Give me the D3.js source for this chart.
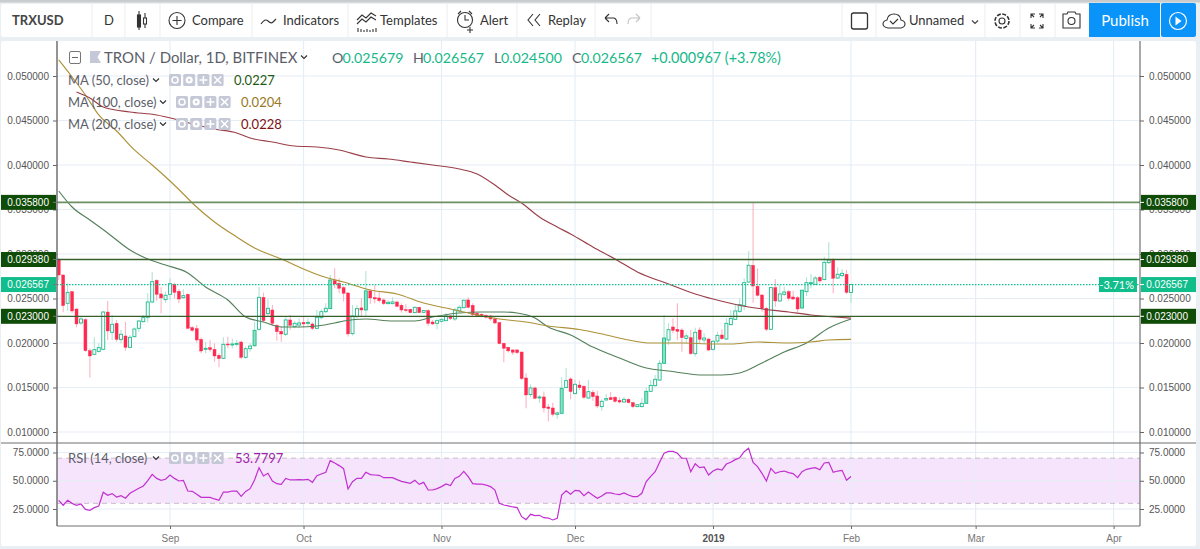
<!DOCTYPE html>
<html>
<head>
<meta charset="utf-8">
<script src="https://cdn.jsdelivr.net/npm/d3@7"></script>
<style>
  html, body { margin: 0; padding: 0; background: #e9eff2; overflow: hidden; }
  svg { display: block; }
  text { font-family: Lato, "Noto Sans", sans-serif; }
  .num text, text.num { font-family: "Liberation Sans", Arial, sans-serif; }
</style>
</head>
<body>
<div id="chart"></div>
<script>
// prices are in 1e-5 USD, one entry per day from startDay
var startDay = new Date(Date.UTC(2018, 7, 7));

var opens = [2940,2764,2446,2577,2382,2225,2262,1914,1873,1906,
  1929,2348,2120,2221,2038,2079,1951,2071,2165,2240,
  2289,2461,2704,2551,2487,2547,2659,2581,2509,2547,
  2172,2161,2041,1929,1948,1929,1862,1828,1989,1978,
  1985,2011,1839,1936,1970,2154,2513,2330,2371,2199,
  2131,2098,2259,2184,2202,2232,2221,2214,2165,2285,
  2352,2386,2701,2671,2622,2562,2105,2296,2394,2371,
  2585,2510,2506,2484,2442,2442,2461,2424,2375,2379,
  2341,2401,2345,2364,2236,2221,2244,2251,2304,2270,
  2360,2397,2484,2424,2334,2323,2311,2304,2270,2229,
  1997,1952,1922,1922,1899,1607,1420,1495,1383,1394,
  1281,1270,1199,1210,1499,1596,1431,1528,1513,1382,
  1446,1405,1285,1360,1386,1390,1356,1337,1367,1330,
  1285,1285,1322,1457,1521,1584,1772,2034,2180,2154,
  2146,2052,2060,1880,2146,2034,2045,1929,2022,2090,
  2045,2206,2266,2356,2423,2685,2873,2637,2539,2390,
  2154,2622,2472,2547,2577,2517,2509,2393,2577,2670,
  2659,2738,2712,2903,2936,2730,2757,2772,2568];
var highs = [2951,2770,2670,2585,2390,2296,2277,1940,2064,1996,
  2360,2472,2315,2259,2146,2240,2090,2176,2259,2315,
  2558,2798,2715,2626,2577,2727,2678,2603,2603,2558,
  2191,2202,2064,2015,2034,1996,1884,2064,2071,2049,
  2034,2026,1959,1996,2240,2633,2566,2491,2427,2214,
  2191,2303,2315,2251,2277,2296,2277,2229,2371,2378,
  2446,2764,2839,2727,2641,2570,2427,2427,2502,2809,
  2603,2652,2588,2502,2484,2514,2476,2446,2435,2386,
  2409,2409,2371,2379,2259,2266,2274,2341,2315,2397,
  2427,2491,2514,2446,2353,2334,2323,2315,2289,2240,
  2004,1959,1929,1933,1903,1660,1536,1510,1416,1454,
  1315,1330,1229,1615,1720,1615,1585,1577,1528,1584,
  1472,1464,1367,1427,1449,1404,1390,1397,1378,1341,
  1315,1378,1502,1584,1640,1809,2315,2221,2277,2446,
  2165,2109,2146,2172,2176,2109,2052,2034,2127,2154,
  2277,2371,2438,2502,2727,3034,3580,2839,2551,2408,
  2633,2715,2652,2633,2596,2588,2528,2603,2738,2775,
  2753,2753,2970,3131,2951,2850,2828,2820,2657];
var lows = [2708,2345,2360,2333,2176,2202,1903,1611,1862,1892,
  1921,2034,2034,2015,1996,1914,1940,2064,2127,2229,
  2229,2446,2476,2333,2453,2483,2502,2446,2498,2154,
  2127,2004,1884,1884,1903,1790,1727,1817,1940,1940,
  1959,1817,1824,1903,1959,2139,2229,2296,2191,2026,
  2015,2079,2146,2165,2165,2172,2184,2146,2154,2266,
  2333,2378,2615,2558,2465,2072,2083,2278,2296,2296,
  2439,2446,2454,2427,2435,2435,2401,2341,2345,2334,
  2334,2334,2334,2191,2203,2154,2229,2244,2259,2248,
  2341,2390,2390,2304,2296,2289,2274,2251,2214,1985,
  1783,1892,1866,1873,1585,1266,1390,1368,1330,1218,
  1117,1173,1150,1203,1491,1368,1424,1472,1367,1367,
  1352,1266,1240,1352,1360,1330,1322,1330,1322,1266,
  1277,1277,1315,1450,1509,1577,1764,1978,2109,2034,
  1903,1996,1865,1847,1996,1989,1914,1914,1996,2034,
  2034,2198,2258,2341,2371,2678,2453,2521,2352,2135,
  2146,2408,2464,2528,2476,2483,2345,2386,2528,2614,
  2652,2678,2708,2888,2558,2723,2738,2551,2450];
var closes = [2764,2420,2569,2360,2214,2270,1914,1854,1925,1948,
  2348,2135,2210,2041,2098,1951,2064,2157,2247,2285,
  2461,2689,2547,2506,2536,2667,2569,2494,2532,2165,
  2142,2034,1910,1940,1925,1854,1824,1985,1981,1989,
  1996,1839,1936,1966,2142,2513,2251,2390,2221,2127,
  2101,2259,2199,2221,2225,2214,2232,2165,2289,2352,
  2390,2708,2663,2615,2558,2102,2304,2386,2371,2585,
  2506,2495,2476,2442,2457,2461,2412,2371,2364,2341,
  2401,2341,2364,2221,2214,2251,2266,2304,2274,2371,
  2401,2480,2401,2319,2308,2304,2289,2270,2225,1993,
  1941,1911,1896,1892,1600,1416,1495,1379,1394,1270,
  1263,1199,1214,1491,1577,1454,1536,1498,1390,1453,
  1397,1292,1345,1375,1363,1345,1337,1367,1330,1285,
  1307,1322,1457,1524,1592,1772,2056,2150,2142,2131,
  2060,2079,1880,2120,2041,2056,1921,2019,2086,2049,
  2221,2277,2360,2431,2678,2873,2640,2536,2386,2154,
  2622,2472,2551,2573,2502,2494,2382,2592,2678,2678,
  2730,2697,2906,2932,2727,2772,2783,2569,2656.7];
// up days drawn with a filled body
var filledDays = [44,61,69,113,132,136,167];

var ma50Days = [0,3,7,11,16,20,24,29,33,38,42,46,50,54,58,62,64,69,75,80,84,90,95,100,103,107,110,115,120,126,132,137,145,149,153,158,163,168,173,178];
var ma50 = [3708,3528,3382,3236,3045,2944,2876,2787,2629,2483,2292,2236,2180,2180,2191,2225,2247,2270,2247,2247,2292,2337,2348,2348,2337,2281,2180,2090,1955,1831,1719,1685,1640,1640,1663,1775,1899,2000,2169,2270];
var ma100Days = [0,3,6,9,13,17,21,25,28,30,35,40,44,50,55,59,64,70,76,82,87,93,99,105,110,117,123,128,133,140,147,151,157,164,169,173,178];
var ma100 = [5180,4989,4787,4562,4382,4169,4000,3820,3674,3573,3360,3191,3067,2944,2831,2753,2685,2596,2551,2449,2393,2326,2270,2236,2191,2152,2090,2034,2000,2000,1989,1989,2011,2000,2011,2034,2040];
var ma200Days = [4,7,10,16,22,26,31,35,40,43,48,53,58,63,69,74,79,84,90,94,98,101,104,108,112,115,120,125,130,137,143,147,155,164,169,178];
var ma200 = [4820,4753,4652,4596,4562,4517,4449,4404,4360,4303,4258,4213,4202,4169,4090,4067,4034,4000,3955,3899,3775,3663,3573,3416,3303,3225,3079,2944,2798,2663,2551,2494,2404,2348,2315,2280];

var rsi = [32.7,28.3,32.7,30,28.3,29.4,24.7,23.8,26.2,27.7,
  39.8,37.1,38.6,35.6,36.8,34.5,38.9,41.2,43.3,45.4,
  50.1,55.7,52.1,50.4,51.3,55.1,52.1,49.8,50.4,40.9,
  40.6,38,35.3,35.3,35.3,33.9,32.7,40,40,40.9,
  40.9,36.2,40.6,43,50.7,61.6,54.2,56.6,49.8,47.4,
  46.8,52.1,50.7,50.7,51,50.8,51.3,48.6,54.5,56,
  57.5,67.8,65.7,63.4,60.7,42.7,49.2,52.1,52.1,57.5,
  55.4,55.1,54.8,52.7,52.7,52.7,51,49.5,48.6,47.7,
  50.4,46.8,48.6,41.8,41.8,43,44.8,47.1,45.7,52.1,
  53.9,58.3,53.6,47.4,47.1,47.1,46.2,44.8,41.8,30,
  28.5,27.7,26.8,26.2,18.2,15.6,20.3,19.1,19.4,17.3,
  17,15.3,16.8,37.4,41.2,38,41.5,41,36.8,40,
  37.1,34.5,36.5,39.2,39.2,38.3,37.7,39.2,37.4,35.9,
  35.9,38.9,49.2,53.9,58,66.3,74.3,76,76,74.3,
  69.9,69.9,58,65.1,61.6,62.2,55.1,58.6,60.4,59.5,
  64.8,66.3,68.7,70.4,75.7,78.7,66.3,62.5,56.6,49.8,
  61,56.6,58,58.6,57.2,56.3,52.7,58,60.1,61,
  61.6,59.8,65.7,66.3,57.5,58.6,59.2,50.4,53.78];

var priceTicks = [1000,1500,2000,2500,3000,3500,4000,4500,5000];
var rsiTicks = [25,50,75];
var monthTicks = [new Date(Date.UTC(2018,8,1)),new Date(Date.UTC(2018,9,1)),new Date(Date.UTC(2018,10,1)),new Date(Date.UTC(2018,11,1)),
  new Date(Date.UTC(2019,0,1)),new Date(Date.UTC(2019,1,1)),new Date(Date.UTC(2019,2,1)),new Date(Date.UTC(2019,3,1))];
var monthLabels = ["Sep","Oct","Nov","Dec","2019","Feb","Mar","Apr"];
var levels = [3580,2938,2300];
var lastClose = 2656.7;

var W = 1200, H = 549;
var paneLeft = 57, paneRight = 1140, paneTop = 41, split = 443, paneBottom = 526;

var fmtPrice = function(d) { return (d / 1e5).toFixed(6); };
var dayDate = function(i) { return d3.utcDay.offset(startDay, i); };

var x = d3.scaleUtc().domain([monthTicks[0], monthTicks[5]]).range([170, 851]);
var y = d3.scaleLinear().domain([5000, 1000]).range([76, 432]);
var yr = d3.scaleLinear().domain([75, 25]).range([452.5, 509]);
var px = function(i) { return x(dayDate(i)); };

var svg = d3.select("#chart").append("svg").attr("width", W).attr("height", H);

svg.append("rect").attr("width", W).attr("height", H).attr("fill", "#e9eff2");
svg.append("rect").attr("width", W).attr("height", 2.5).attr("fill", "#c9cccd");
svg.append("rect").attr("x", 1).attr("y", 4).attr("width", 1195).attr("height", 33).attr("rx", 2).attr("fill", "#fff");
svg.append("rect").attr("x", 1).attr("y", paneTop).attr("width", 1195).attr("height", 505).attr("rx", 2).attr("fill", "#fff");

var defs = svg.append("defs");
defs.append("clipPath").attr("id", "pricePane").append("rect")
  .attr("x", paneLeft).attr("y", paneTop).attr("width", paneRight - paneLeft).attr("height", split - paneTop);
defs.append("clipPath").attr("id", "rsiPane").append("rect")
  .attr("x", paneLeft).attr("y", split).attr("width", paneRight - paneLeft).attr("height", paneBottom - split);

// grid
var grid = svg.append("g").attr("stroke", "#e5eef5").attr("stroke-width", 1.2);
grid.selectAll(".v").data(monthTicks).enter().append("line").attr("class", "v")
  .attr("x1", x).attr("x2", x).attr("y1", paneTop).attr("y2", paneBottom);
grid.selectAll(".h").data(priceTicks).enter().append("line").attr("class", "h")
  .attr("x1", paneLeft).attr("x2", paneRight).attr("y1", y).attr("y2", y);

// rsi band goes under its grid lines
svg.append("rect").attr("x", paneLeft).attr("width", paneRight - paneLeft)
  .attr("y", yr(70)).attr("height", yr(30) - yr(70)).attr("fill", "#f6e3fc");
grid.raise();
grid.selectAll(".r").data(rsiTicks).enter().append("line").attr("class", "r")
  .attr("x1", paneLeft).attr("x2", paneRight).attr("y1", yr).attr("y2", yr);
svg.selectAll(".band").data([70, 30]).enter().append("line").attr("class", "band")
  .attr("x1", paneLeft).attr("x2", paneRight).attr("y1", yr).attr("y2", yr)
  .attr("stroke", "#c8bccb").attr("stroke-width", 1).attr("stroke-dasharray", "5,4");

// candles
var days = d3.range(opens.length);
var pane = svg.append("g").attr("clip-path", "url(#pricePane)");

pane.selectAll(".wick").data(days).enter().append("line").attr("class", "wick")
  .attr("x1", px).attr("x2", px)
  .attr("y1", function(i) { return y(highs[i]); })
  .attr("y2", function(i) { return y(lows[i]); })
  .attr("stroke", function(i) { return closes[i] >= opens[i] ? "#aee6d2" : "#fbb4c3"; })
  .attr("stroke-width", 1.1);

pane.selectAll(".body").data(days).enter().append("rect").attr("class", "body")
  .attr("x", function(i) { return px(i) - 1.5; })
  .attr("width", 3)
  .attr("y", function(i) { return y(Math.max(opens[i], closes[i])); })
  .attr("height", function(i) { return Math.max(1, Math.abs(y(opens[i]) - y(closes[i]))); })
  .attr("fill", function(i) {
    if (closes[i] < opens[i]) return "#ff2a50";
    return filledDays.indexOf(i) >= 0 ? "#8fdfc2" : "#fff";
  })
  .attr("stroke", function(i) { return closes[i] >= opens[i] ? "#1fbb8d" : "#ff2a50"; })
  .attr("stroke-width", function(i) { return closes[i] >= opens[i] ? 0.9 : 0.4; });

// moving averages
function maLine(dayList, values, color) {
  var line = d3.line().curve(d3.curveMonotoneX)
    .x(function(i) { return px(i); })
    .y(function(i, k) { return y(values[k]); });
  pane.append("path").attr("d", line(dayList)).attr("fill", "none")
    .attr("stroke", color).attr("stroke-width", 1.15);
}
maLine(ma50Days, ma50, "#54805a");
maLine(ma100Days, ma100, "#ad9138");
maLine(ma200Days, ma200, "#9a3f48");

// horizontal levels
pane.selectAll(".level").data(levels).enter().append("line").attr("class", "level")
  .attr("x1", paneLeft).attr("x2", paneRight).attr("y1", y).attr("y2", y)
  .attr("stroke", function(d, i) { return i == 0 ? "#6d8f63" : "#365f2c"; })
  .attr("stroke-width", function(d, i) { return i == 0 ? 1.6 : 1.3; });
pane.append("line").attr("x1", paneLeft).attr("x2", paneRight).attr("y1", y(lastClose)).attr("y2", y(lastClose))
  .attr("stroke", "#0fc391").attr("stroke-width", 1.2).attr("stroke-dasharray", "1.5,1.5");

// rsi line
var rsiLine = d3.line().x(function(d, i) { return px(i); }).y(function(d) { return yr(d); });
svg.append("g").attr("clip-path", "url(#rsiPane)").append("path").attr("d", rsiLine(rsi))
  .attr("fill", "none").attr("stroke", "#c12fd0").attr("stroke-width", 1.2);

// axes
function styleAxis(g, color) {
  g.select(".domain").remove();
  g.attr("class", "num");
  g.selectAll("line").attr("stroke", "#666");
  g.selectAll("text").attr("fill", color).style("font-size", "10px");
}
svg.append("g").attr("transform", "translate(" + paneLeft + ",0)")
  .call(d3.axisLeft(y).tickValues(priceTicks).tickFormat(fmtPrice).tickSize(4).tickPadding(4)).call(styleAxis, "#555");
svg.append("g").attr("transform", "translate(" + paneRight + ",0)")
  .call(d3.axisRight(y).tickValues(priceTicks).tickFormat(fmtPrice).tickSize(4).tickPadding(5)).call(styleAxis, "#555");
svg.append("g").attr("transform", "translate(" + paneLeft + ",0)")
  .call(d3.axisLeft(yr).tickValues(rsiTicks).tickFormat(d3.format(".4f")).tickSize(4).tickPadding(4)).call(styleAxis, "#555");
svg.append("g").attr("transform", "translate(" + paneRight + ",0)")
  .call(d3.axisRight(yr).tickValues(rsiTicks).tickFormat(d3.format(".4f")).tickSize(4).tickPadding(5)).call(styleAxis, "#555");
var timeAxis = svg.append("g").attr("transform", "translate(0," + paneBottom + ")")
  .call(d3.axisBottom(x).tickValues(monthTicks).tickFormat(function(d, i) { return monthLabels[i]; }).tickSize(3).tickPadding(6))
  .call(styleAxis, "#777");
timeAxis.selectAll("text").style("font-weight", function(d, i) { return monthLabels[i] == "2019" ? "bold" : "normal"; })
  .attr("fill", function(d, i) { return monthLabels[i] == "2019" ? "#555" : "#777"; });

// pane borders
var border = svg.append("g").attr("stroke", "#717171").attr("fill", "none");
border.append("line").attr("x1", paneLeft).attr("x2", paneLeft).attr("y1", paneTop).attr("y2", paneBottom).attr("stroke-width", 1.5);
border.append("line").attr("x1", paneRight).attr("x2", paneRight).attr("y1", paneTop).attr("y2", paneBottom).attr("stroke", "#555");
border.append("line").attr("x1", 1).attr("x2", 1196).attr("y1", split).attr("y2", split).attr("stroke-width", 1.2);
border.append("line").attr("x1", paneLeft).attr("x2", paneRight).attr("y1", paneBottom).attr("y2", paneBottom).attr("stroke-width", 1.2);

// price tags on both scales
function priceTag(value, color) {
  var yy = y(value);
  [[1, 55, 49], [paneRight + 1, 55, paneRight + 48]].forEach(function(s) {
    svg.append("rect").attr("x", s[0]).attr("y", yy - 7.5).attr("width", s[1]).attr("height", 15).attr("fill", color);
    svg.append("text").attr("class", "num").attr("x", s[2]).attr("y", yy + 3.5).attr("text-anchor", "end")
      .attr("fill", "#fff").style("font-size", "10px").text(fmtPrice(value));
  });
  svg.append("line").attr("x1", paneLeft - 4).attr("x2", paneLeft).attr("y1", yy).attr("y2", yy).attr("stroke", "#777");
  svg.append("line").attr("x1", paneRight).attr("x2", paneRight + 4).attr("y1", yy).attr("y2", yy).attr("stroke", "#fff");
}
levels.forEach(function(d) { priceTag(d, "#0f4c07"); });
priceTag(2656.7, "#12bd8c");
svg.append("rect").attr("x", 1099).attr("y", y(lastClose) - 7.5).attr("width", 38).attr("height", 15).attr("fill", "#12bd8c");
svg.append("text").attr("x", 1134).attr("y", y(lastClose) + 4).attr("text-anchor", "end")
  .attr("fill", "#fff").style("font-size", "11px").text("-3.71%");

// legend
var legendInk = "#5b5e69";
function label(tx, ty, str, color, size) {
  return svg.append("text").attr("x", tx).attr("y", ty).attr("fill", color)
    .style("font-size", (size || 13) + "px").text(str);
}
function chevron(cx, cy, color) {
  svg.append("path").attr("d", "M" + (cx - 3) + "," + (cy - 1.5) + "l3,3l3,-3")
    .attr("fill", "none").attr("stroke", color || "#333").attr("stroke-width", 1.2);
}
function buttons(bx, cy) {
  d3.range(4).forEach(function(k) {
    var cx = bx + 6 + k * 14.2;
    svg.append("rect").attr("x", cx - 6).attr("y", cy - 6).attr("width", 12).attr("height", 12)
      .attr("rx", 1.5).attr("fill", "#c5c8d6");
    var g = svg.append("g").attr("stroke", "#fff").attr("fill", "none").attr("stroke-width", 1.6);
    if (k == 0) g.append("circle").attr("cx", cx).attr("cy", cy).attr("r", 3);
    if (k == 1) g.append("circle").attr("cx", cx).attr("cy", cy).attr("r", 2.4).attr("stroke-width", 2.4);
    if (k == 2) g.append("path").attr("d", "M" + (cx - 4) + "," + cy + "h8M" + cx + "," + (cy - 4) + "v8");
    if (k == 3) g.append("path").attr("d", "M" + (cx - 3.5) + "," + (cy - 3.5) + "l7,7M" + (cx + 3.5) + "," + (cy - 3.5) + "l-7,7");
  });
}
svg.append("rect").attr("x", 69.5).attr("y", 51.5).attr("width", 11).attr("height", 12).attr("rx", 1.5)
  .attr("fill", "none").attr("stroke", "#777");
svg.append("path").attr("d", "M72,57.5h6").attr("stroke", "#666");
svg.append("path").attr("d", "M90,51h11l-3.5,6l3.5,6h-11z").attr("fill", "#c5c8d6");
label(104, 63, "TRON / Dollar, 1D, BITFINEX", legendInk, 14.9);
chevron(304, 57, "#333");

var quoteGreen = "#17b88a";
[["O", 332, 342.5, "0.025679"], ["H", 413, 423, "0.026567"], ["L", 494, 501, "0.024500"], ["C", 572, 581, "0.026567"]].forEach(function(q) {
  label(q[1], 63, q[0], legendInk, 14.2);
  label(q[2], 63, q[3], quoteGreen, 14.2);
});
label(651, 63, "+0.000967 (+3.78%)", quoteGreen, 14.4);

label(68, 85, "MA (50, close)", legendInk);
chevron(156, 80);
buttons(169, 80);
label(234, 85, "0.0227", "#1f5a12");
label(68, 107, "MA (100, close)", legendInk);
chevron(163, 102);
buttons(176, 102);
label(241, 107, "0.0204", "#977824");
label(68, 129, "MA (200, close)", legendInk);
chevron(163, 124);
buttons(176, 124);
label(241, 129, "0.0228", "#7d1010");
label(68, 463, "RSI (14, close)", legendInk);
chevron(156, 458);
buttons(169, 458);
label(235, 463, "53.7797", "#a01fa6");

// toolbar
var ink = "#333";
[92, 125, 160, 252, 348, 447, 517, 595, 651, 842, 876, 985, 1020, 1055].forEach(function(sx) {
  svg.append("line").attr("x1", sx).attr("x2", sx).attr("y1", 4).attr("y2", 37).attr("stroke", "#eef2f4").attr("stroke-width", 1.3);
});
label(12, 25, "TRXUSD", "#444", 13).style("font-weight", "bold");
label(104, 25, "D", ink, 13);
label(192, 25, "Compare", ink, 13);
label(283, 25, "Indicators", ink, 13);
label(380, 25, "Templates", ink, 13);
label(480, 25, "Alert", ink, 13);
label(548, 25, "Replay", ink, 13);
label(909, 25, "Unnamed", ink, 13);

var icons = svg.append("g").attr("fill", "none").attr("stroke", ink).attr("stroke-width", 1.1);
// candle icon
icons.append("path").attr("d", "M139,11v4M139,27v3M145,13v5M145,24v4");
icons.append("rect").attr("x", 137.5).attr("y", 15).attr("width", 3).attr("height", 12).attr("fill", ink);
icons.append("rect").attr("x", 143.5).attr("y", 18).attr("width", 3).attr("height", 6);
// compare
icons.append("circle").attr("cx", 177).attr("cy", 20.5).attr("r", 8);
icons.append("path").attr("d", "M172.5,20.5h9M177,16v9");
// indicators
icons.append("path").attr("d", "M261,24q4,-6 7,-3t5,1t3,-3");
// templates
icons.append("path").attr("d", "M357,20l5,-5l4,3l5,-5l5,3M357,24l5,-5l4,3l5,-5l5,3M358,32v-4M361,32v-3M364,32v-2M367,32v-3M370,32v-2M373,32v-3M376,32v-4");
// alert
icons.append("circle").attr("cx", 465).attr("cy", 20).attr("r", 7.5);
icons.append("path").attr("d", "M465,15v5h4M458,14l3,-3M472,14l-3,-3M470,27v6M467,30h6");
// replay
icons.append("path").attr("d", "M533,14l-5,6l5,6M540,14l-5,6l5,6");
// undo, redo
icons.append("path").attr("d", "M605,18h9q3,1 3,6M605,18l4,-4M605,18l4,4");
icons.append("path").attr("d", "M640,18h-9q-3,1 -3,6M640,18l-4,-4M640,18l-4,4").attr("stroke", "#c4c4c4");
// square
icons.append("rect").attr("x", 851.5).attr("y", 13).attr("width", 16).attr("height", 16).attr("rx", 2).attr("stroke-width", 1.3);
// cloud
icons.append("path").attr("d", "M888,28h13q4,-1 4,-4t-4,-4q-1,-6 -7,-6t-7,6q-4,1 -4,4t5,4z");
icons.append("path").attr("d", "M890,21l3,3l5,-5");
chevron(975, 22, "#444");
// gear
icons.append("circle").attr("cx", 1002).attr("cy", 21).attr("r", 3);
icons.append("circle").attr("cx", 1002).attr("cy", 21).attr("r", 7).attr("stroke-dasharray", "4,1.5").attr("stroke-width", 1.6);
// fullscreen
icons.append("path").attr("d", "M1031,18v-4h4M1043,18v-4h-4M1031,24v4h4M1043,24v4h-4M1031,14l3,3M1043,14l-3,3M1031,28l3,-3M1043,28l-3,-3");
// camera
icons.append("path").attr("d", "M1063,14h4l1,-2h7l1,2h4v14h-17z");
icons.append("circle").attr("cx", 1071.5).attr("cy", 21).attr("r", 3.5);

svg.append("rect").attr("x", 1089).attr("y", 3).attr("width", 71).attr("height", 34).attr("fill", "#0a94fa");
svg.append("rect").attr("x", 1161).attr("y", 3).attr("width", 35).attr("height", 34).attr("rx", 2).attr("fill", "#0a94fa");
label(1125, 26, "Publish", "#fff", 15).attr("text-anchor", "middle");
svg.append("circle").attr("cx", 1178).attr("cy", 21).attr("r", 8.5).attr("fill", "none").attr("stroke", "#fff").attr("stroke-width", 1.2);
svg.append("path").attr("d", "M1175.5,16.5l6,4.5l-6,4.5z").attr("fill", "#fff");
</script>
</body>
</html>
